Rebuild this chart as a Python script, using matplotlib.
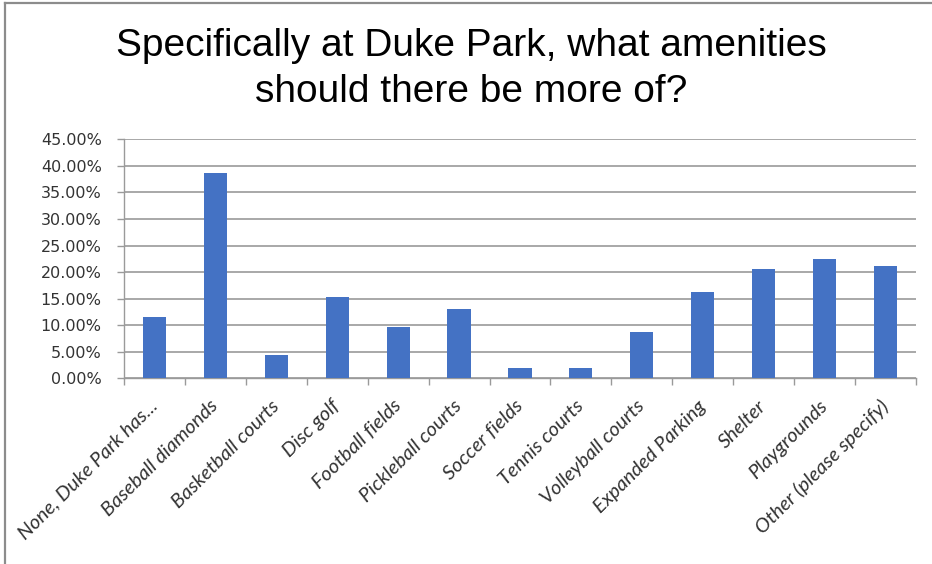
import matplotlib
matplotlib.use("Agg")
import matplotlib.pyplot as plt
from matplotlib.lines import Line2D
from matplotlib.ticker import FuncFormatter, FixedLocator
import numpy as np

# survey answers and share of respondents (%)
categories = [
    "None, Duke Park has...", "Baseball diamonds", "Basketball courts",
    "Disc golf", "Football fields", "Pickleball courts", "Soccer fields",
    "Tennis courts", "Volleyball courts", "Expanded Parking", "Shelter",
    "Playgrounds", "Other (please specify)",
]
shares = [11.5, 38.6, 4.4, 15.3, 9.7, 13.1, 1.9, 1.9, 8.8, 16.2, 20.5, 22.4, 21.2]
y_ticks = [0, 5, 10, 15, 20, 25, 30, 35, 40, 45]

title = "Specifically at Duke Park, what amenities\nshould there be more of?"

fig = plt.figure(figsize=(9.32, 5.64), dpi=100)
ax = fig.add_axes([0.1330, 0.3293, 0.8498, 0.4237])

x = np.arange(len(categories))
ax.bar(x, shares, width=0.38, color="#4472C4", zorder=3)

ax.set_xlim(-0.5, len(categories) - 0.5)
ax.set_ylim(0, 45)

# gridlines + axis look
ax.yaxis.set_major_locator(FixedLocator(y_ticks))
ax.yaxis.set_major_formatter(FuncFormatter(lambda v, p: f"{v:.2f}%"))
ax.grid(axis="y", color="#999999", linewidth=1.2, zorder=0)
for side in ["top", "right"]:
    ax.spines[side].set_visible(False)
ax.spines["left"].set_color("#9a9a9a")
ax.spines["bottom"].set_color("#9a9a9a")
ax.spines["left"].set_linewidth(1.0)
ax.spines["bottom"].set_linewidth(1.0)

ax.tick_params(axis="y", length=5, width=1, color="#9a9a9a", pad=11,
               labelsize=11.5, labelcolor="#333333")
for lab in ax.get_yticklabels():
    lab.set_family("DejaVu Sans")

# ticks at category boundaries, labels at centers
ax.set_xticks(np.arange(len(categories) + 1) - 0.5)
ax.set_xticklabels([])
ax.tick_params(axis="x", which="major", length=5, width=1, color="#9a9a9a")
ax.set_xticks(x, minor=True)
ax.set_xticklabels(categories, minor=True, rotation=45, ha="right",
                   va="center", rotation_mode="anchor",
                   family="Lato", style="italic", fontsize=14.5, color="#333333")
ax.tick_params(axis="x", which="minor", length=0, pad=18)

fig.text(0.5054, 0.950, title, ha="center", va="top", family="Liberation Sans",
         fontsize=28, color="black", linespacing=1.35)

# outer chart frame (left and top edges visible)
fig.add_artist(Line2D([5 / 932, 5 / 932], [0, 1 - 3 / 564], transform=fig.transFigure,
                      color="#8c8c8c", linewidth=1.6))
fig.add_artist(Line2D([5 / 932, 1], [1 - 3 / 564, 1 - 3 / 564], transform=fig.transFigure,
                      color="#8c8c8c", linewidth=1.6))

fig.savefig("out.png", dpi=100)
